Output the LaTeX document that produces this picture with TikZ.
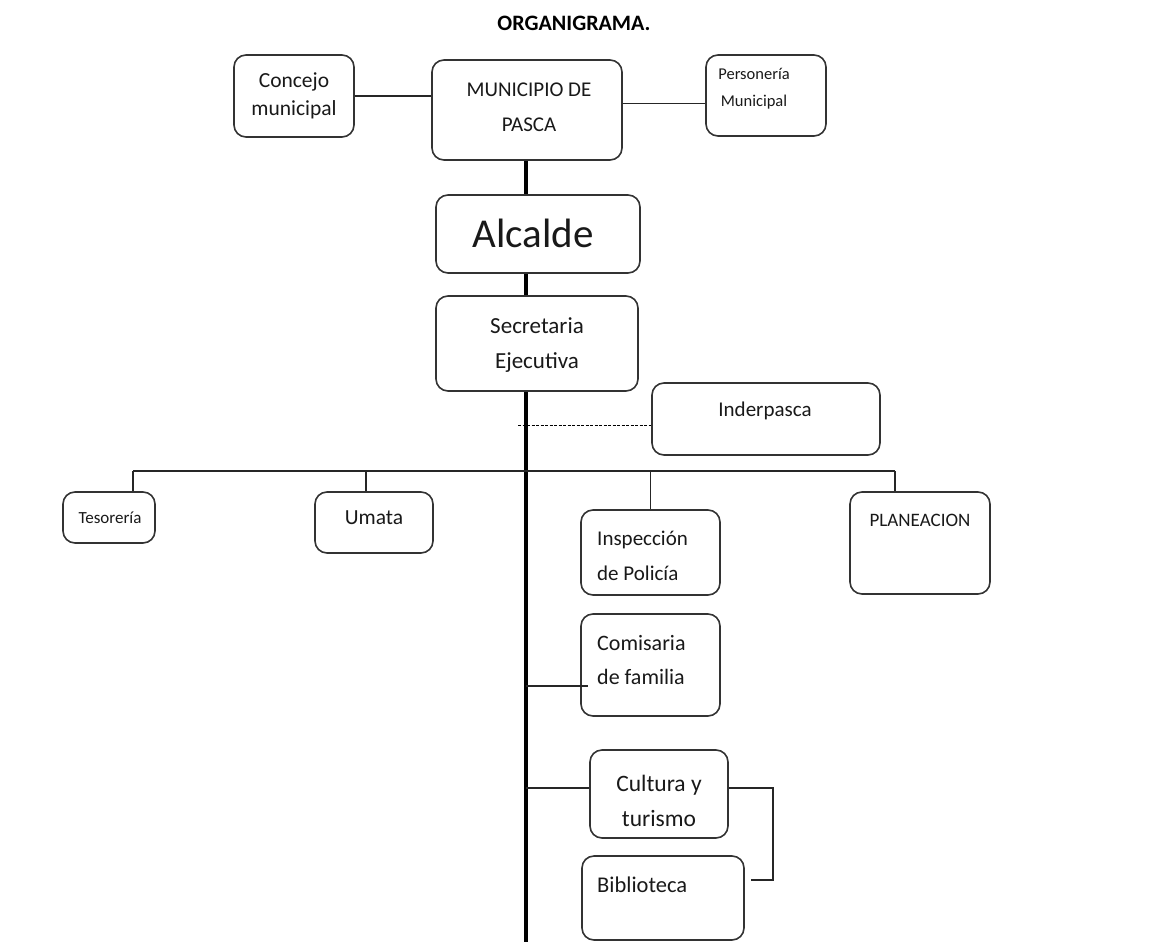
\documentclass[tikz,border=0pt]{standalone}
\usepackage{fontspec}
\setmainfont{Carlito}
\begin{document}
\begin{tikzpicture}[x=1pt,y=-1pt,
  box/.style={draw=black!80,line width=1.6pt,rounded corners=12pt,inner sep=0pt,fill=white},
  txt/.style={inner sep=0pt,text=black!90,font=\fontsize{21}{35}\selectfont,align=center},
  conn/.style={line width=1.8pt,black!85},
  spine/.style={line width=3.6pt,black}]
\useasboundingbox (0,0) rectangle (1153,942);
\node[inner sep=0pt,font=\bfseries\fontsize{22}{26}\selectfont] (title) at (574,23) {ORGANIGRAMA.};
% boxes
\node[box,minimum width=120pt,minimum height=82pt] (concejo) at (294,96) {};
\node[box,minimum width=190pt,minimum height=100pt] (muni) at (527,110) {};
\node[box,minimum width=120pt,minimum height=81pt] (pers) at (766,95.5) {};
\node[box,minimum width=204pt,minimum height=78pt] (alc) at (538,234) {};
\node[box,minimum width=202pt,minimum height=95pt] (secre) at (537,343.5) {};
\node[box,minimum width=228pt,minimum height=72pt] (inder) at (766,419) {};
\node[box,minimum width=92pt,minimum height=51pt] (teso) at (109,517.5) {};
\node[box,minimum width=118pt,minimum height=61pt] (umata) at (374,522.5) {};
\node[box,minimum width=139pt,minimum height=85pt] (insp) at (650.5,552.5) {};
\node[box,minimum width=140pt,minimum height=102pt] (plan) at (920,543) {};
\node[box,minimum width=139pt,minimum height=102pt] (comi) at (650.5,665) {};
\node[box,minimum width=138pt,minimum height=88pt] (cult) at (659,794) {};
\node[box,minimum width=162pt,minimum height=84pt] (bibl) at (663,898) {};
% texts
\node[txt,font=\fontsize{21.5}{28}\selectfont] (concejo-t) at (294,96) {Concejo\\municipal};
\node[txt,font=\fontsize{21}{35}\selectfont] (muni-t) at (529,107.5) {MUNICIPIO DE\\PASCA};
\node[txt,font=\fontsize{16.5}{27}\selectfont] (pers-t) at (754,89) {Personería\\Municipal};
\node[txt,font=\fontsize{41}{45}\selectfont] (alc-t) at (533,233) {Alcalde};
\node[txt,font=\fontsize{23}{35}\selectfont] (secre-t) at (537,345.5) {Secretaria\\Ejecutiva};
\node[txt] (inder-t) at (765,411) {Inderpasca};
\node[txt,font=\fontsize{17}{20}\selectfont] (teso-t) at (110,518) {Tesorería};
\node[txt,font=\fontsize{21.5}{25}\selectfont] (umata-t) at (374,518) {Umata};
\node[txt,align=left,anchor=west] (insp-t) at (597,555.5) {Inspección\\de Policía};
\node[txt,font=\fontsize{19}{22}\selectfont] (plan-t) at (920,520) {PLANEACION};
\node[txt,align=left,anchor=west,font=\fontsize{22}{34}\selectfont] (comi-t) at (597,660) {Comisaria\\de familia};
\node[txt,font=\fontsize{23.5}{35}\selectfont] (cult-t) at (659,800.5) {Cultura y\\turismo};
\node[txt,align=left,anchor=west,font=\fontsize{22.5}{26}\selectfont] (bibl-t) at (597,885) {Biblioteca};
% coordinates
\coordinate (bottom) at (526,942);
\coordinate (hl) at (133,471);
\coordinate (hr) at (895,471);
\coordinate (hu) at (366,471);
\coordinate (dstart) at (518,425);
\coordinate (c1) at (526,686);
\coordinate (bk) at (773,880);
% connectors
\draw[conn] (concejo.east) -- (concejo.east -| muni.west);
\draw[conn] ([yshift=-8pt]muni.east |- pers.west) -- ([yshift=-8pt]pers.west);
\draw[spine] (muni.south -| bottom) -- (alc.north -| bottom);
\draw[spine] (alc.south -| bottom) -- (secre.north -| bottom);
\draw[spine] (secre.south -| bottom) -- (bottom);
\draw[line width=1pt,dashed,dash pattern=on 3pt off 1.5pt] (dstart) -- (dstart -| inder.west);
\draw[conn] (hl) -- (hr);
\draw[conn] (hl) -- (hl |- teso.north);
\draw[conn] (hu) -- (hu |- umata.north);
\draw[conn] (insp.north) -- (insp.north |- hl);
\draw[conn] (hr) -- (hr |- plan.north);
\draw[conn] (c1) -- ([xshift=8pt]c1 -| comi.west);
\draw[conn] ([yshift=6pt]cult.west -| bottom) -- ([yshift=6pt]cult.west);
\draw[conn] ([yshift=6pt]cult.east) -| (bk) -- ([xshift=6pt]bk -| bibl.east);
\end{tikzpicture}
\end{document}
